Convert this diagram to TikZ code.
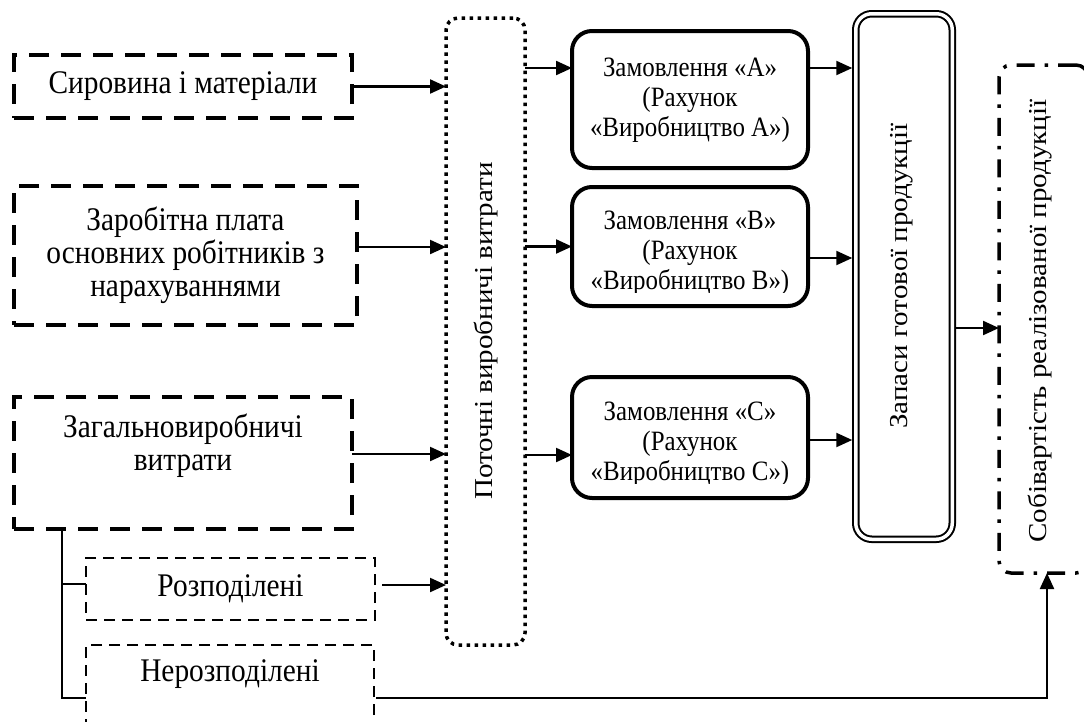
\documentclass[tikz,border=0pt]{standalone}
\usepackage{fontspec}
\setmainfont{Liberation Serif}
% narrow face for horizontal labels, wide face for upright (rotated) labels
\newfontfamily\narrowserif{Liberation Serif}[FakeStretch=0.89]
\newfontfamily\wideserif{Liberation Serif}[FakeStretch=1.124]
\usetikzlibrary{arrows.meta}
\begin{document}
\begin{tikzpicture}[x=1pt,y=-1pt,
  every node/.style={inner sep=0pt, outer sep=0pt},
  big/.style={font=\narrowserif\fontsize{33}{33}\selectfont, align=center},
  ordfont/.style={font=\narrowserif\fontsize{28}{30}\selectfont, align=center},
  vert/.style={font=\wideserif\fontsize{25.8}{30}\selectfont, rotate=90},
  thickdash/.style={draw, line width=4pt, dash pattern=on 20pt off 12pt},
  thindash/.style={draw, line width=2.2pt, dash pattern=on 11pt off 7pt},
  dotbox/.style={draw, line width=3.5pt, dash pattern=on 3.5pt off 4.5pt, rounded corners=12pt},
  order/.style={draw, line width=4pt, rounded corners=20pt, minimum width=236pt},
  dbl/.style={draw, double, double distance=3.5pt, line width=2pt, rounded corners=16pt},
  dashdot/.style={draw, line width=3.5pt, dash pattern=on 18pt off 10pt on 3.5pt off 10pt, rounded corners=12pt},
  arr/.style={line width=2.2pt, -{Triangle[length=16pt,width=14pt]}},
  tree/.style={line width=1.6pt}]
\useasboundingbox (0,0) rectangle (1084,721);
\clip (0,0) rectangle (1084,721);

% cost sources
\node[thickdash, big, minimum width=338pt, minimum height=63pt] (raw) at (183,86.5) {Сировина і матеріали};
\node[thickdash, big, minimum width=343pt, minimum height=139pt] (wage) at (185.5,255.5)
  {Заробітна плата\\основних робітників з\\нарахуваннями};
\node[thickdash, minimum width=338pt, minimum height=132pt] (overhead) at (183,463) {};
\node[big] (overheadtext) at (183,446) {Загальновиробничі\\витрати};
\node[thindash, big, minimum width=289pt, minimum height=62pt] (alloc) at (230.5,589) {Розподілені};
\node[thindash, minimum width=288pt, minimum height=106pt] (unalloc) at (230,698) {};
\node[big] (unalloctext) at (230,674) {Нерозподілені};

% current production costs
\node[dotbox, minimum width=79pt, minimum height=627pt] (current) at (485.5,331.5) {};
\node[vert] (currenttext) at (486,331) {Поточні виробничі витрати};

% orders
\node[order, minimum height=137pt] (ordA) at (690,99.5) {};
\node[ordfont] (ordAtext) at (690,100) {Замовлення «А»\\(Рахунок\\«Виробництво А»)};

\node[order, minimum height=119pt] (ordB) at (690,246.5) {};
\begin{scope}
  \clip (572,187) rectangle (808,292);
  \node[ordfont] (ordBtext) at (690,253) {Замовлення «В»\\(Рахунок\\«Виробництво В»)};
\end{scope}

\node[order, minimum height=121pt] (ordC) at (690,437.5) {};
\begin{scope}
  \clip (572,377) rectangle (808,483);
  \node[ordfont] (ordCtext) at (690,444) {Замовлення «С»\\(Рахунок\\«Виробництво С»)};
\end{scope}

% finished goods and cost of sales
\node[dbl, minimum width=96.5pt, minimum height=525.5pt] (stock) at (904,276.5) {};
\node[vert] (stocktext) at (902,276) {Запаси готової продукції};
\node[dashdot, minimum width=89pt, minimum height=508pt] (sold) at (1043.5,319) {};
\node[vert] (soldtext) at (1040,321) {Собівартість реалізованої продукції};

% connection points
\path ([yshift=8.5pt]wage.east) coordinate (wageout);
\path ([yshift=9pt]overhead.east) coordinate (ohout);
\path ([xshift=7pt,yshift=4pt]alloc.east) coordinate (allocout);
\path (ordA.west) ++(0,-31.5) coordinate (ainA);
\path (ordC.west) ++(0,17.5) coordinate (cinC);
\path (ordA.east) ++(0,-31.5) coordinate (aout);
\path (ordB.east) ++(0,11.5) coordinate (bout);
\path (ordC.east) ++(0,2.5) coordinate (cout);
\path (stock.east) ++(0,51.5) coordinate (sout);
\path (overhead.south west) ++(48,0) coordinate (trunk);
\path (alloc.west) ++(0,-5) coordinate (allocin);
\path (sold.south) ++(3.5,0) coordinate (soldin);

% flows into current costs
\draw[arr] (raw.east) -- (raw.east -| current.west);
\draw[arr] (wageout) -- (wageout -| current.west);
\draw[arr] (ohout) -- (ohout -| current.west);
\draw[arr] (allocout) -- (allocout -| current.west);

% flows to orders
\draw[arr] (ainA -| current.east) -- (ainA);
\draw[arr] (ordB.west -| current.east) -- (ordB.west);
\draw[arr] (cinC -| current.east) -- (cinC);

% flows to finished goods
\draw[arr, shorten >=3.5pt] (aout) -- (aout -| stock.west);
\draw[arr, shorten >=3.5pt] (bout) -- (bout -| stock.west);
\draw[arr, shorten >=3.5pt] (cout) -- (cout -| stock.west);
\draw[arr, shorten <=3.5pt] (sout) -- (sout -| sold.west);

% overhead split
\draw[tree] (trunk) |- (unalloc.west);
\draw[tree] (allocin -| trunk) -- (allocin);
\draw[arr] ([xshift=2pt]unalloc.east) -| (soldin);
\end{tikzpicture}
\end{document}
